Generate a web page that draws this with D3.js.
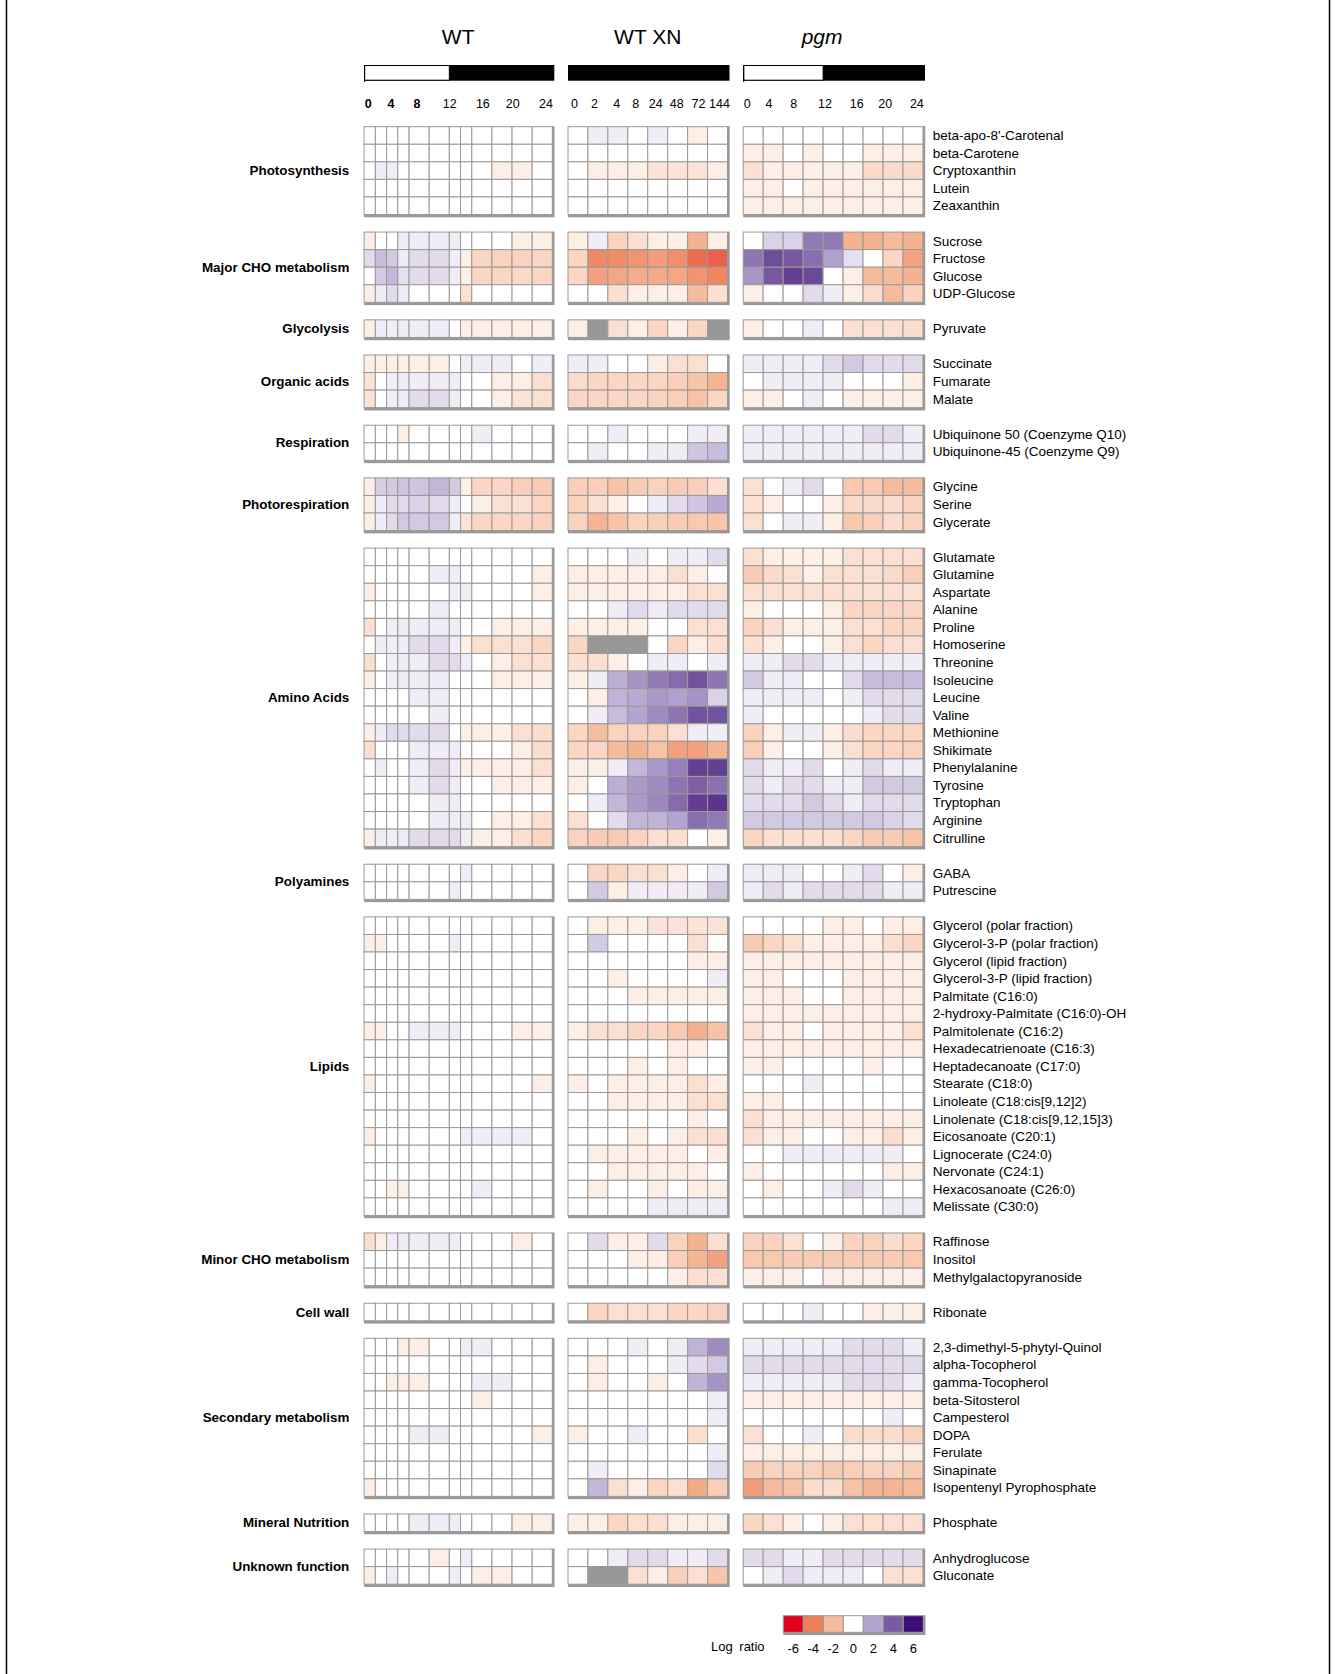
<!DOCTYPE html>
<html><head><meta charset="utf-8">
<script src="https://cdn.jsdelivr.net/npm/d3@7/dist/d3.min.js"></script>
<style>
html,body{margin:0;padding:0;background:#fff;}
svg{display:block;font-family:"Liberation Sans",Arial,Helvetica,sans-serif;}
</style></head>
<body>
<svg id="chart" width="1338" height="1674"></svg>
<script>
// ---------------- DATA ----------------
const panelTitles = ["WT", "WT XN", "pgm"];
const wtTicks = ["0","4","8","12","16","20","24"];
const wtBoldTicks = ["0","4","8"];
const xnTicks = ["0","2","4","8","24","48","72","144"];
const pgmTicks = ["0","4","8","12","16","20","24"];

const groupNames = ["Photosynthesis","Major CHO metabolism","Glycolysis","Organic acids","Respiration",
  "Photorespiration","Amino Acids","Polyamines","Lipids","Minor CHO metabolism","Cell wall",
  "Secondary metabolism","Mineral Nutrition","Unknown function"];
const groupSizes = [5,4,1,3,2,3,17,2,17,3,1,9,1,2];

const metabolites = [
  "beta-apo-8'-Carotenal","beta-Carotene","Cryptoxanthin","Lutein","Zeaxanthin",
  "Sucrose","Fructose","Glucose","UDP-Glucose",
  "Pyruvate",
  "Succinate","Fumarate","Malate",
  "Ubiquinone 50 (Coenzyme Q10)","Ubiquinone-45 (Coenzyme Q9)",
  "Glycine","Serine","Glycerate",
  "Glutamate","Glutamine","Aspartate","Alanine","Proline","Homoserine","Threonine","Isoleucine",
  "Leucine","Valine","Methionine","Shikimate","Phenylalanine","Tyrosine","Tryptophan","Arginine","Citrulline",
  "GABA","Putrescine",
  "Glycerol (polar fraction)","Glycerol-3-P (polar fraction)","Glycerol (lipid fraction)",
  "Glycerol-3-P (lipid fraction)","Palmitate (C16:0)","2-hydroxy-Palmitate (C16:0)-OH",
  "Palmitolenate (C16:2)","Hexadecatrienoate (C16:3)","Heptadecanoate (C17:0)","Stearate (C18:0)",
  "Linoleate (C18:cis[9,12]2)","Linolenate (C18:cis[9,12,15]3)","Eicosanoate (C20:1)",
  "Lignocerate (C24:0)","Nervonate (C24:1)","Hexacosanoate (C26:0)","Melissate (C30:0)",
  "Raffinose","Inositol","Methylgalactopyranoside",
  "Ribonate",
  "2,3-dimethyl-5-phytyl-Quinol","alpha-Tocopherol","gamma-Tocopherol","beta-Sitosterol","Campesterol",
  "DOPA","Ferulate","Sinapinate","Isopentenyl Pyrophosphate",
  "Phosphate",
  "Anhydroglucose","Gluconate"];

const Z12 = [0,0,0,0,0,0,0,0,0,0,0,0];
const wtValues = [
  Z12, Z12, [0,.4,.4,0,0,0,0,0,0,-.5,-.5,0], Z12, Z12,
  [-.5,0,0,.4,.4,.4,.4,0,0,0,-.5,-.5],
  [.8,1.5,1.2,.4,.8,.8,.4,-.5,-1.2,-1.3,-1.3,-1.2],
  [0,1.2,1.6,.7,.8,.8,.4,-.5,-1.2,-1.2,-1.1,-1.2],
  [-.5,.4,.8,.4,0,0,0,-.9,0,0,0,0],
  [-.5,.4,.4,.4,.4,.4,0,-.5,-.5,-.5,-.5,-.5],
  [-.5,-.5,-.5,-.5,-.5,-.5,0,.4,.4,.4,0,.4],
  [-.8,0,.4,.4,.4,.4,.4,0,0,-.5,-.5,-.9],
  [-.8,0,.4,.4,.8,.8,.4,0,0,-.5,-.8,-.9],
  [0,0,0,-.5,0,0,0,0,.4,0,0,0],
  Z12,
  [-.5,1.1,1.2,1.3,1.3,1.6,1.2,-.5,-1.2,-1.2,-1.4,-1.5],
  [-.5,.4,.8,.8,1,.8,.4,0,-.5,-.9,-.9,-1.2],
  [-.5,.4,.8,1.2,1.2,1.2,.4,-.8,-1.2,-1.2,-1.2,-1.3],
  Z12,
  [0,0,0,0,0,.4,.4,0,0,0,0,-.5],
  [-.5,0,0,0,0,0,.4,.4,0,0,0,-.5],
  [0,0,0,0,0,.4,0,0,0,0,0,0],
  [-.9,0,.4,.4,.4,.4,.4,0,0,-.5,-.5,-.5],
  [0,.4,.4,.4,.8,.8,.4,-.5,-.9,-.9,-.9,-1.2],
  [-.9,0,.4,.4,.4,.8,.8,.4,0,-.5,-.9,-.9],
  [-.5,0,.4,.4,.4,.4,0,0,0,-.5,-.5,-.5],
  [0,0,0,0,.4,.4,0,0,0,0,0,0],
  [0,0,0,0,0,.4,0,0,0,0,0,0],
  [-.5,.4,.8,.8,.8,.8,0,-.5,-.5,-.5,-.9,-1],
  [-.9,0,0,0,.4,.4,.4,0,0,0,-.5,-1],
  [0,.4,0,0,.4,.8,.4,-.5,-.5,-.5,-.5,-.9],
  [0,0,0,0,.4,.8,.4,0,0,-.5,-.5,-.5],
  [0,0,0,0,0,.4,.4,0,0,0,0,0],
  [0,0,0,0,0,.4,.4,.4,0,-.5,-.5,-.9],
  [-.5,.4,.4,.4,.8,.8,.8,.4,-.5,-.5,-.9,-1.2],
  [0,0,0,0,0,0,0,.4,0,0,0,0],
  [0,0,0,0,0,0,.4,0,0,0,0,0],
  Z12,
  [-.5,-.5,0,0,0,0,.4,0,0,0,0,0],
  Z12, Z12, Z12, Z12,
  [-.5,-.5,0,0,.4,.4,.4,0,0,0,-.5,-.5],
  Z12, Z12,
  [-.5,0,0,0,0,0,0,0,0,0,0,-.5],
  Z12, Z12,
  [-.5,0,0,0,0,0,0,.4,.4,.4,.4,0],
  Z12, Z12,
  [0,0,-.5,-.5,0,0,0,0,.4,0,0,0],
  Z12,
  [-.9,-.5,.4,.4,.4,.4,.4,0,0,0,-.5,0],
  Z12, Z12,
  Z12,
  [0,0,0,-.5,-.5,0,0,.4,.4,0,0,0],
  Z12,
  [0,0,-.5,-.5,-.5,0,0,0,.4,.4,0,0],
  [0,0,0,0,0,0,0,0,-.5,0,0,0],
  Z12,
  [0,0,0,0,.4,.4,0,0,0,0,0,-.5],
  Z12, Z12,
  [-.5,0,0,0,0,0,0,0,0,0,0,0],
  [0,0,0,0,.4,.4,.4,0,0,0,-.5,-.5],
  [0,0,0,0,0,-.5,0,.4,0,0,0,0],
  [-.5,0,.4,0,0,0,.4,0,-.5,-.5,0,0]
];

const Z8 = [0,0,0,0,0,0,0,0];
const xnValues = [
  [0,.4,.4,0,.4,0,-.5,0], Z8, [0,-.5,-.5,-.5,-.8,-.8,-.8,-.5], Z8, Z8,
  [-.5,.4,-1.3,-.9,-.5,-.5,-2.3,-.5],
  [-1.2,-3.7,-3.6,-3.3,-3.0,-3.5,-4.3,-4.5],
  [-1.2,-2.9,-2.7,-2.5,-2.6,-2.7,-3.3,-3.8],
  [0,0,-.9,-.5,-.5,-.5,-2,-.9],
  [-.5,null,-.9,-.5,-1.2,-.5,-1.2,null],
  [.4,.4,0,0,-.5,-.9,-.9,0],
  [-1,-1.2,-1.2,-1.2,-1.2,-1.4,-1.7,-2.2],
  [-1.2,-1.2,-1.2,-1.2,-1.3,-1.4,-1.8,-1.2],
  [0,0,.4,0,0,0,.4,.4],
  [0,.4,0,0,.4,.4,1.3,1.5],
  [-1.4,-1.4,-1.8,-1.5,-1.3,-1.5,-1.4,-.9],
  [-1.3,-.9,-.5,0,.4,.8,1.3,1.9],
  [-1.3,-2.2,-1.8,-1.3,-1.4,-1.5,-1.6,-1.7],
  [0,0,0,.4,0,.4,.4,.8],
  [-.5,-.5,-.5,-.5,-.5,-.9,-.5,0],
  [-.5,-.5,-.5,-.5,-.5,-.5,-.9,-.9],
  [0,0,.4,.8,.4,.8,.8,.8],
  [-.5,-.5,-.5,-.5,0,0,-.9,-.9],
  [-1.2,null,null,null,0,-1.2,-.5,-.9],
  [-.9,-.9,-.5,0,.4,.4,0,.4],
  [-.5,.4,1.8,2.5,3.2,3.6,4.2,3.3],
  [0,-.5,1.7,1.9,2.3,2.1,2.5,1.0],
  [0,.4,1.5,2.0,2.7,3.3,4.2,4.2],
  [-1.2,-1.9,-1.3,-1.3,-1.3,-.9,.4,.4],
  [-1.2,-1.2,-2,-2.3,-1.8,-2.9,-2.9,-2.2],
  [-.5,-.5,.4,1.6,2.3,3,4.7,4.7],
  [-.5,0,1.8,2.3,2.7,3.3,3.9,3.4],
  [0,.4,1.6,2.3,2.8,3.6,4.8,5.0],
  [-.9,0,.8,1.6,1.7,2,3.5,3.2],
  [-1.3,-1.5,-1.5,-1.3,-.9,-.9,0,-.5],
  [0,-1.2,-1.2,-.9,-.9,-.5,0,.4],
  [0,1.2,-.5,.4,.4,.4,.4,1.2],
  [0,-.5,-.5,-.5,-.8,-.8,-.8,-.8],
  [0,1.2,0,0,0,0,-.9,0],
  [0,0,0,0,0,0,-.5,-.5],
  [0,0,-.5,0,0,0,0,.4],
  [0,0,0,-.5,-.5,-.5,-.5,-.5],
  Z8,
  [-.5,-.9,-.9,-1.2,-1.2,-1.6,-2.4,-1.8],
  [0,0,0,0,0,-.5,-.5,0],
  [0,0,0,-.5,0,-.5,0,0],
  [-.5,0,-.5,-.5,-.5,-.5,-.9,-.5],
  [0,0,-.5,-.5,-.5,-.5,-.9,-.9],
  [0,0,0,0,0,0,-.5,0],
  [0,0,0,-.5,0,-.5,-.9,-.9],
  [0,-.5,-.5,-.5,-.5,-.5,0,-.5],
  [0,0,-.5,-.5,-.5,-.5,-.5,0],
  [0,-.5,0,0,-.5,0,-.5,-.5],
  [0,0,0,0,.4,.4,.4,.4],
  [0,.8,-.5,-.5,.8,-1.3,-2.3,-.9],
  [0,0,0,-.5,-.5,-1.4,-2.2,-2.9],
  [0,0,0,0,0,-.5,-.9,-.9],
  [0,-1.2,-.9,-.9,-.9,-1.2,-1.2,-1.3],
  [0,0,0,.4,0,.4,1.7,2.7],
  [0,-.5,0,0,0,.4,.8,1.2],
  [0,-.5,0,0,-.5,0,1.7,2.5],
  [0,0,0,0,0,0,0,.4],
  [0,0,0,0,0,0,0,.4],
  [-.5,0,0,.4,0,0,-.9,0],
  [0,0,0,0,0,0,0,.4],
  [0,.4,0,0,0,0,0,.8],
  [0,1.6,-.9,-.5,-1.2,-.9,-2.6,-1.4],
  [-.5,-.5,-1.2,-.9,-.9,-.5,-.5,-.5],
  [0,0,.4,.8,.8,.4,.4,.8],
  [0,null,null,-.9,-.5,-1.4,-.9,-1.7]
];

const Z9 = [0,0,0,0,0,0,0,0,0];
const L9 = [-.5,-.5,-.5,-.5,-.5,-.5,-.5,-.5,-.5];
const pgmValues = [
  Z9,
  [-.5,-.5,0,-.5,0,0,-.5,-.5,-.5],
  [-.9,-.5,-.5,-.5,-.5,-.5,-1.1,-1.1,-1.1],
  [-.5,-.5,0,-.5,-.5,-.5,-.5,-.5,-.5],
  L9,
  [0,1,1,3.2,3.2,-2.3,-2.3,-2,-2.3],
  [3.3,4.4,4.1,3.5,2.1,.7,0,-1.2,-2.8],
  [2.4,4.1,4.7,4.5,0,-.5,-2,-2,-2.3],
  [-.5,0,0,.8,.4,-.5,-1,-2,-1.3],
  [-.5,0,0,.4,0,-.9,-.9,-.9,-1],
  [.4,.4,.4,.4,.8,1.2,.8,.8,.8],
  [0,.4,.4,.4,.4,0,0,0,-.5],
  [-.5,-.5,0,.4,0,-.5,-.5,-.5,-.5],
  [.4,.4,.4,.4,.4,.4,.8,.8,.4],
  [.4,.4,.4,.4,.4,.4,.4,.4,.4],
  [-.9,0,.4,.8,0,-1.6,-1.6,-2,-2],
  [-.9,-.5,0,0,-.5,-1.1,-1.1,-1,-1.3],
  [-.9,0,.4,.4,-.5,-1.6,-1.4,-1,-1.3],
  [-.9,-.5,-.5,-.5,-.5,-.9,-.9,-.9,-.9],
  [-1.5,-1.1,-.9,-.5,-.9,-.9,-.9,-1.1,-1.4],
  [-.9,-.9,-.9,-.9,-.9,-.9,-.9,-.9,-.9],
  [-.5,0,0,0,-.5,-1.2,-1.2,-1.2,-1.2],
  [-1.3,-.9,-.5,-.5,-.5,-.9,-.9,-1.2,-1.2],
  [-.9,-.5,0,0,-.5,-.9,-1.2,-.9,-.9],
  [.4,.4,.8,.8,.4,.4,.4,.4,.4],
  [1.2,.4,.4,0,0,.8,1.5,1.5,1.5],
  [.4,.4,.4,.4,0,.4,.8,.8,.8],
  [.4,0,0,0,0,0,.4,.8,.8],
  [-1.3,-.5,.4,.4,-.5,-1,-1.2,-1.2,-1.2],
  [-1.4,-.5,0,0,-.5,-.9,-1.2,-1.2,-1.3],
  [.8,.4,.4,.8,0,.4,.8,.4,.4],
  [.8,.4,.8,.8,.4,.4,1.2,1.2,1.2],
  [.8,.8,.8,1.2,.8,.4,.8,.8,.8],
  [1.2,1.2,1.2,1.2,1.2,1.2,1.2,1,.8],
  [-1.2,-.9,-.9,-.9,-.9,-1.2,-1.5,-1.5,-1.8],
  [.4,.4,.4,0,0,.4,.8,0,-.5],
  [.4,.8,.4,.8,.8,.8,.8,.4,.4],
  [0,0,0,0,-.5,-.5,0,-.5,-.5],
  [-1.5,-1.2,-.9,-.5,-.5,-.5,-.5,-.9,-1.2],
  L9,
  [-.5,-.5,0,0,0,-.5,-.5,-.5,-.5],
  [-.5,-.5,-.5,0,0,-.5,-.5,-.5,-.5],
  L9,
  [-.9,-.5,-.5,0,-.5,-.5,-.5,-.5,-.9],
  L9,
  [-.5,-.5,0,0,0,0,-.5,0,0],
  [0,0,0,.4,0,0,0,0,0],
  [-.5,-.5,0,0,0,0,0,0,0],
  [-.9,-.5,-.5,-.5,-.5,-.5,-.5,-.5,-.5],
  [-.9,-.5,-.5,0,0,-.5,-.5,-1,-.5],
  [0,0,.4,.4,.4,.4,.4,.4,0],
  [-.5,0,0,0,0,0,0,-.5,-.5],
  [0,-.5,0,0,.4,.8,.4,0,0],
  [0,0,0,0,0,0,0,.4,.4],
  [-1.3,-1.3,-.9,0,-.5,-1.3,-1.3,-1,-1.2],
  [-1.6,-1.6,-1.5,-1.5,-1.5,-1.5,-1.5,-1.5,-1.6],
  [-.5,-.5,-.5,0,-.5,-.5,-.5,-.5,-.5],
  [0,0,0,.4,0,0,-.5,-.5,-.5],
  [.4,.4,.4,.4,.4,.8,.8,.8,.4],
  [.8,.8,.8,.8,.8,.8,.8,.8,.8],
  [.4,.4,.4,.4,.4,.8,.8,.8,.4],
  L9,
  [0,0,0,0,0,0,0,.4,0],
  [-.9,0,0,.4,0,-1,-1,-1,-1.3],
  L9,
  [-1.5,-1.3,-1.3,-1.3,-1.5,-1.4,-1.3,-1.3,-1.5],
  [-3,-2,-1.8,-1,-1,-1.8,-2.2,-2.2,-2],
  [-1.2,-.9,-.5,0,-.5,-.9,-.9,-.9,-.9],
  [.8,.8,.4,.4,.8,.8,.8,.8,.8],
  [0,.4,.8,.4,.4,.4,0,-.9,-.9]
];

const legendValues = [-6,-4,-2,0,2,4,6];
const legendColors = ["#e2001d","#ee8059","#f6bb9b","#ffffff","#b4a5d0","#7a5ba2","#3c0e78"];

// ---------------- LAYOUT ----------------
const svg = d3.select("#chart");
const FONT = '"Liberation Sans",Arial,Helvetica,sans-serif';
const GRID = "#999999";
const NA_FILL = "#979797";
const rowTop = 126.7, rowH = 17.56;

const color = d3.scaleLinear().domain(legendValues).range(legendColors).clamp(true);

// row unit index (groups separated by one empty row)
const rowUnit = [];
let unit = 0;
groupSizes.forEach((n, g) => { for (let i = 0; i < n; i++) rowUnit.push(unit++); unit++; });
const totalUnits = unit - 1;
const y = d3.scaleLinear().domain([0, totalUnits]).range([rowTop, rowTop + totalUnits * rowH]);

// outer frame lines
svg.append("line").attr("x1",6.5).attr("x2",6.5).attr("y1",0).attr("y2",1674).attr("stroke","#000").attr("stroke-width",1.5);
svg.append("line").attr("x1",1329.5).attr("x2",1329.5).attr("y1",0).attr("y2",1674).attr("stroke","#000").attr("stroke-width",1.5);

// panel column geometry
const wtWeights = [1,1,1,1,1.79,1.79,1,1,1.79,1.79,1.79,1.79];
function edgesFromWeights(w, x0, x1) {
  const cum = [0]; w.forEach(v => cum.push(cum[cum.length-1] + v));
  const s = d3.scaleLinear().domain([0, cum[cum.length-1]]).range([x0, x1]);
  return cum.map(s);
}
function uniformEdges(n, x0, x1) {
  const b = d3.scaleBand().domain(d3.range(n)).range([x0, x1]).padding(0);
  const e = d3.range(n).map(i => b(i)); e.push(x1); return e;
}
const dayTickFrac = [0.022, 0.143, 0.281, 0.455, 0.631, 0.79, 0.966];
const xnTickFrac = [0.04, 0.166, 0.305, 0.424, 0.55, 0.682, 0.818, 0.95];
const panels = [
  { title: "WT", values: wtValues, edges: edgesFromWeights(wtWeights, 364.1, 552.3), ticks: wtTicks, frac: dayTickFrac, lightCols: 6, italic: false, titleDx: 0 },
  { title: "WT XN", values: xnValues, edges: uniformEdges(8, 568, 727.5), ticks: xnTicks, frac: xnTickFrac, lightCols: 0, italic: false, titleDx: 0 },
  { title: "pgm", values: pgmValues, edges: uniformEdges(9, 743.2, 923), ticks: pgmTicks, frac: dayTickFrac, lightCols: 4, italic: true, titleDx: -11 }
];

panels.forEach((p, pi) => {
  const e = p.edges, x0 = e[0], x1 = e[e.length-1];
  const g = svg.append("g");
  // title
  g.append("text").attr("x", (x0+x1)/2 + p.titleDx).attr("y", 44.3)
    .attr("text-anchor","middle").attr("font-size",21).attr("font-family",FONT)
    .attr("font-style", p.italic ? "italic" : "normal").text(p.title);
  // light / dark bar
  g.append("rect").attr("x",x0).attr("y",65).attr("width",x1-x0+2).attr("height",15.7).attr("fill","#000");
  if (p.lightCols > 0) {
    g.append("rect").attr("x",x0+0.5).attr("y",65.5).attr("width",e[p.lightCols]-x0-0.5).attr("height",14.7)
      .attr("fill","#fff").attr("stroke","#000").attr("stroke-width",1);
    g.append("line").attr("x1",x0+0.5).attr("x2",x0+0.5).attr("y1",65).attr("y2",82).attr("stroke","#000").attr("stroke-width",1);
  }
  // tick labels
  p.ticks.forEach((t, i) => {
    const tx = x0 + p.frac[i] * (x1 - x0);
    g.append("text").attr("x", tx).attr("y", 107.5).attr("text-anchor","middle")
      .attr("font-size",12.5).attr("font-family",FONT)
      .attr("font-weight", (pi === 0 && wtBoldTicks.includes(t)) ? "bold" : "normal").text(t);
  });
  // cells
  const cells = [];
  p.values.forEach((row, r) => row.forEach((v, c) => cells.push({r, c, v})));
  g.selectAll("rect.cell").data(cells).join("rect").attr("class","cell")
    .attr("x", d => e[d.c]).attr("y", d => y(rowUnit[d.r]))
    .attr("width", d => e[d.c+1] - e[d.c]).attr("height", rowH)
    .attr("fill", d => d.v === null ? NA_FILL : color(d.v))
    .attr("stroke", GRID).attr("stroke-width", 1);
  // block borders (thick shadow bottom / right)
  let start = 0;
  groupSizes.forEach((n, gi) => {
    const top = y(rowUnit[start]), bot = y(rowUnit[start + n - 1]) + rowH;
    g.append("rect").attr("x", x0).attr("y", bot).attr("width", x1 - x0 + 2.2).attr("height", 2.8).attr("fill", GRID);
    g.append("rect").attr("x", x1).attr("y", top - 0.5).attr("width", 2.2).attr("height", bot - top + 1).attr("fill", GRID);
    start += n;
  });
});

// group labels
let s0 = 0;
groupSizes.forEach((n, gi) => {
  const top = y(rowUnit[s0]), bot = y(rowUnit[s0 + n - 1]) + rowH;
  svg.append("text").attr("x", 349.3).attr("y", (top + bot) / 2).attr("dy","0.35em")
    .attr("text-anchor","end").attr("font-size",13.4).attr("font-weight","bold").attr("font-family",FONT)
    .text(groupNames[gi]);
  s0 += n;
});

// row labels
metabolites.forEach((m, i) => {
  svg.append("text").attr("x", 932.7).attr("y", y(rowUnit[i]) + rowH/2).attr("dy","0.35em")
    .attr("font-size",13.5).attr("font-family",FONT).text(m);
});

// legend
const lx = d3.scaleBand().domain(legendValues).range([783.3, 923.3]).padding(0);
const lg = svg.append("g");
lg.selectAll("rect.lg").data(legendValues).join("rect").attr("class","lg")
  .attr("x", d => lx(d)).attr("y", 1615.7).attr("width", lx.bandwidth()).attr("height", 16.6)
  .attr("fill", d => color(d)).attr("stroke", GRID).attr("stroke-width", 1);
lg.append("rect").attr("x", 783.3).attr("y", 1632.3).attr("width", 142.2).attr("height", 2.8).attr("fill", GRID);
lg.append("rect").attr("x", 923.3).attr("y", 1615.2).attr("width", 2.2).attr("height", 17.5).attr("fill", GRID);
lg.selectAll("text.lv").data(legendValues).join("text").attr("class","lv")
  .attr("x", d => lx(d) + lx.bandwidth()/2).attr("y", 1653).attr("text-anchor","middle")
  .attr("font-size",13).attr("font-family",FONT).text(d => d);
lg.append("text").attr("x", 711).attr("y", 1651).attr("font-size",13).attr("font-family",FONT)
  .attr("word-spacing", 3).text("Log ratio");
</script>
</body></html>
